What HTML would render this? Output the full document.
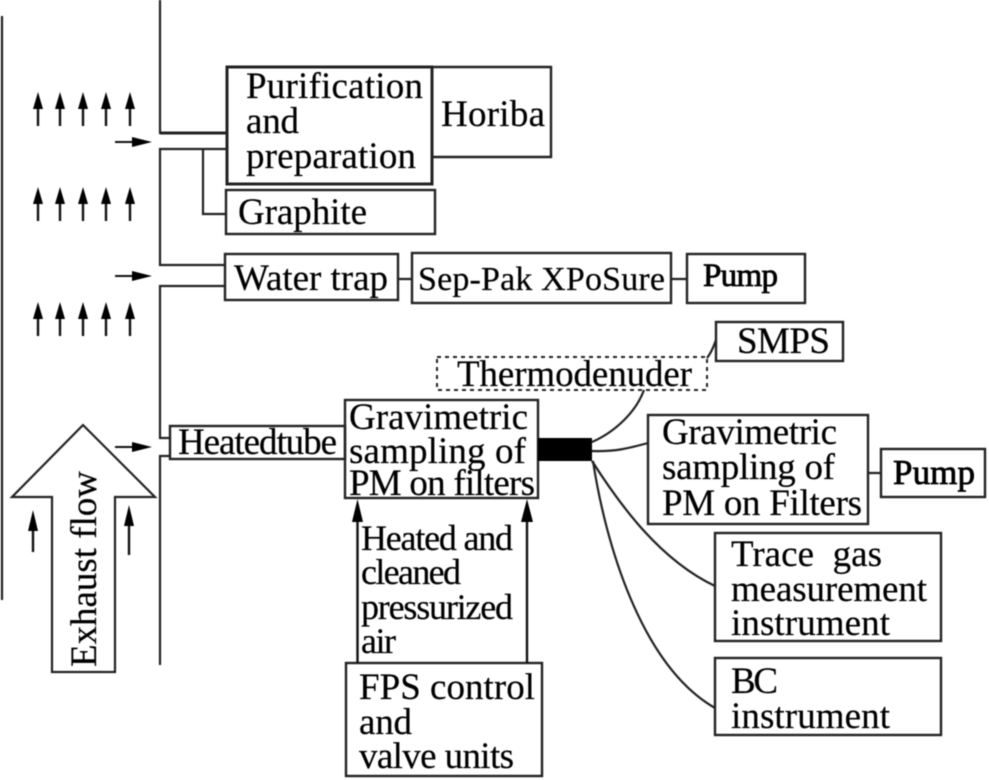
<!DOCTYPE html>
<html><head><meta charset="utf-8"><style>
html,body{margin:0;padding:0;background:#fff}
svg{display:block;filter:blur(.45px)}
text{font-family:"Liberation Serif",serif;font-size:37px;fill:#000;stroke:#000;stroke-width:.2}
.b{fill:none;stroke:#222;stroke-width:2.4}
.l{fill:none;stroke:#222;stroke-width:2.2}
.a{stroke:#111;stroke-width:2.4;fill:none}
</style></head><body>
<svg width="989" height="780" viewBox="0 0 989 780" xmlns="http://www.w3.org/2000/svg">
<defs>
<g id="up"><path class="a" d="M0 12V34"/><path d="M0 0L5 17H-5Z" fill="#000"/></g>
<g id="rt"><path class="a" d="M0 0H24" style="stroke-width:2"/><path d="M37 0L17 -5V5Z" fill="#000"/></g>
</defs>
<!-- walls -->
<path class="l" d="M2 16V600"/>
<path class="l" d="M160 0V133H227"/>
<path class="l" d="M227 133H160" style="stroke-width:3"/>
<path class="l" d="M227 149H160V265H225"/>
<path class="l" d="M203 149V214H226"/>
<path class="l" d="M225 286H160V438H170"/>
<path class="l" d="M170 456H160V665"/>
<path class="l" d="M398 279H412M671 279H687M868 473H881"/>
<!-- boxes -->
<rect class="b" x="227" y="67" width="205" height="117" style="stroke-width:3"/>
<path class="b" d="M432 67H551V157H432"/>
<rect class="b" x="226" y="190" width="209" height="44"/>
<rect class="b" x="225" y="254" width="173" height="46"/>
<rect class="b" x="412" y="253" width="259" height="50"/>
<rect class="b" x="687" y="254" width="118" height="49"/>
<rect class="b" x="716" y="322" width="127" height="39"/>
<rect x="437" y="357" width="270" height="33" fill="none" stroke="#222" stroke-width="2" stroke-dasharray="4 4"/>
<rect class="b" x="170" y="426" width="175" height="33"/>
<rect class="b" x="345" y="400" width="193" height="98"/>
<rect x="538" y="438" width="54" height="23" fill="#000"/>
<rect class="b" x="648" y="415" width="220" height="109"/>
<rect class="b" x="881" y="449" width="104" height="48"/>
<rect class="b" x="715" y="533" width="226" height="108"/>
<rect class="b" x="715" y="658" width="226" height="77"/>
<rect class="b" x="346" y="663" width="196" height="113"/>
<!-- curves -->
<path class="l" d="M592 442C615 432 636 412 644 390"/>
<path class="l" d="M707 358C712 352 714 345 716 340"/>
<path class="l" d="M592 451C615 452 630 448 648 443"/>
<path class="l" d="M592 461C620 505 660 560 715 586"/>
<path class="l" d="M593 461C605 540 640 665 715 708"/>
<!-- small arrows -->
<use href="#up" x="38" y="92"/><use href="#up" x="60" y="92"/><use href="#up" x="83" y="92"/><use href="#up" x="106" y="92"/><use href="#up" x="130" y="92"/>
<use href="#up" x="38" y="187"/><use href="#up" x="60" y="187"/><use href="#up" x="83" y="187"/><use href="#up" x="106" y="187"/><use href="#up" x="130" y="187"/>
<use href="#up" x="38" y="302"/><use href="#up" x="60" y="302"/><use href="#up" x="83" y="302"/><use href="#up" x="106" y="302"/><use href="#up" x="130" y="302"/>
<use href="#rt" x="115" y="142"/><use href="#rt" x="115" y="276"/><use href="#rt" x="115" y="447"/>
<!-- big arrow -->
<path class="l" d="M83 425L12 497H52V672H115V497H155Z" style="fill:#fff"/>
<path class="a" d="M33 520V552"/><path d="M33 510L28 531H38Z" fill="#000"/>
<path class="a" d="M129 520V555"/><path d="M129 505L124 526H134Z" fill="#000"/>
<path class="a" d="M357.500 510V663"/><path d="M357.500 499L352 522H363Z" fill="#000"/>
<path class="a" d="M527 510V663"/><path d="M527 499L521 522H533Z" fill="#000"/>
<!-- labels -->
<text x="246" y="98" textLength="177">Purification</text>
<text x="246" y="133" textLength="53">and</text>
<text x="246" y="168" textLength="170">preparation</text>
<text x="441" y="126" textLength="104">Horiba</text>
<text x="238" y="224" textLength="129">Graphite</text>
<text x="234" y="290" textLength="154">Water trap</text>
<text x="418" y="290" textLength="247" style="font-size:34px">Sep-Pak XPoSure</text>
<text x="703" y="286" textLength="75" style="font-size:33px;stroke-width:.8">Pump</text>
<text x="737" y="353" textLength="93">SMPS</text>
<text x="457" y="386" textLength="235">Thermodenuder</text>
<text x="178" y="454" textLength="159">Heatedtube</text>
<text x="349" y="429" textLength="179">Gravimetric</text>
<text x="349" y="463" textLength="177">sampling of</text>
<text x="349" y="495" textLength="186">PM on filters</text>
<text x="361" y="550" textLength="152" style="font-size:36px">Heated and</text>
<text x="361" y="584" textLength="100" style="font-size:36px">cleaned</text>
<text x="361" y="619" textLength="152" style="font-size:36px">pressurized</text>
<text x="361" y="653" textLength="35" style="font-size:36px">air</text>
<text x="359" y="699" textLength="176">FPS control</text>
<text x="359" y="734" textLength="53">and</text>
<text x="359" y="768" textLength="155">valve units</text>
<text x="662" y="444" textLength="175">Gravimetric</text>
<text x="662" y="479" textLength="173">sampling of</text>
<text x="662" y="515" textLength="200">PM on Filters</text>
<text x="893" y="484" textLength="82" style="font-size:35px;stroke-width:.8">Pump</text>
<text x="731" y="566" textLength="151">Trace&#160;&#160;gas</text>
<text x="731" y="601" textLength="196">measurement</text>
<text x="731" y="635" textLength="159">instrument</text>
<text x="731" y="693" textLength="47">BC</text>
<text x="731" y="728" textLength="159">instrument</text>
<text transform="translate(96 667) rotate(-90)" x="0" y="0" textLength="196">Exhaust flow</text>
</svg>
</body></html>
